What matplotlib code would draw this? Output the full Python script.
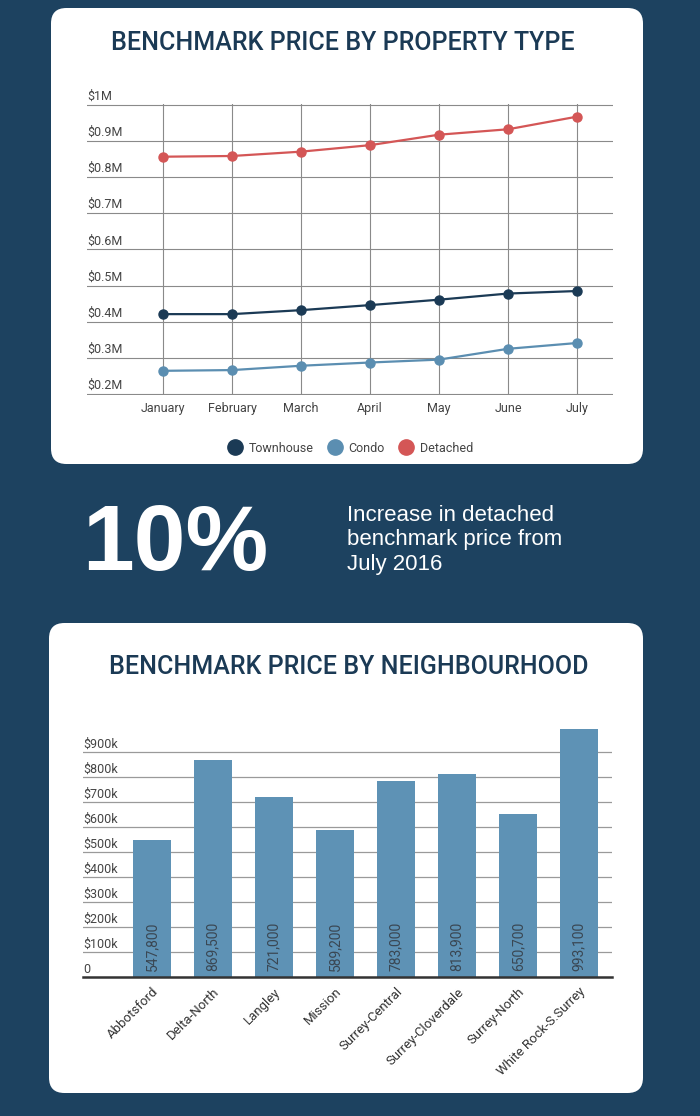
import matplotlib
matplotlib.use("Agg")
import matplotlib.pyplot as plt
from matplotlib.patches import FancyBboxPatch
from matplotlib.lines import Line2D
import matplotlib.transforms as mtransforms

# data
months = ["January", "February", "March", "April", "May", "June", "July"]
townhouse = [0.421, 0.421, 0.432, 0.446, 0.461, 0.478, 0.485]
condo = [0.264, 0.266, 0.278, 0.287, 0.295, 0.325, 0.341]
detached = [0.857, 0.859, 0.871, 0.889, 0.918, 0.933, 0.968]
line_ticks = [0.2, 0.3, 0.4, 0.5, 0.6, 0.7, 0.8, 0.9, 1.0]
line_tick_labels = ["$0.2M", "$0.3M", "$0.4M", "$0.5M", "$0.6M", "$0.7M", "$0.8M", "$0.9M", "$1M"]

hoods = ["Abbotsford", "Delta-North", "Langley", "Mission", "Surrey-Central",
         "Surrey-Cloverdale", "Surrey-North", "White Rock-S.Surrey"]
hood_prices = [547800, 869500, 721000, 589200, 783000, 813900, 650700, 993100]
bar_ticks = [0, 100000, 200000, 300000, 400000, 500000, 600000, 700000, 800000, 900000]
bar_tick_labels = ["0", "$100k", "$200k", "$300k", "$400k", "$500k", "$600k", "$700k", "$800k", "$900k"]

BG = "#1d4260"
NAVY = "#1b3a55"
C_TOWN = "#1b3a55"
C_CONDO = "#5b8eb1"
C_DET = "#d45656"
C_BAR = "#5e92b5"
TXT = "#444444"

W, H = 700, 1116
fig = plt.figure(figsize=(W / 100, H / 100), dpi=100, facecolor=BG)
plt.rcParams["font.family"] = ["Roboto", "DejaVu Sans"]


def rect(x0, y0, x1, y1):
    # pixel box (top-left origin) -> figure fractions
    return [x0 / W, 1 - y1 / H, (x1 - x0) / W, (y1 - y0) / H]


def panel(x0, y0, x1, y1):
    r = rect(x0, y0, x1, y1)
    p = FancyBboxPatch((r[0], r[1]), r[2], r[3],
                       boxstyle="round,pad=0,rounding_size=0.022",
                       transform=fig.transFigure, facecolor="white",
                       edgecolor="none", mutation_aspect=W / H, zorder=-1)
    fig.patches.append(p)


panel(51, 8, 643, 464)
panel(49, 623, 643, 1093)

fig.text(343 / W, 1 - 43 / H, "BENCHMARK PRICE BY PROPERTY TYPE", ha="center", va="center",
         fontsize=18, color=NAVY, fontweight="medium")
fig.text(349 / W, 1 - 667 / H, "BENCHMARK PRICE BY NEIGHBOURHOOD", ha="center", va="center",
         fontsize=18, color=NAVY, fontweight="medium")

# ---- line chart
ax = fig.add_axes(rect(87, 104, 613, 395))
ax.patch.set_visible(False)
x = list(range(len(months)))
ax.plot(x, townhouse, color=C_TOWN, lw=1.6, marker="o", ms=6.5, zorder=3)
ax.plot(x, condo, color=C_CONDO, lw=1.6, marker="o", ms=6.5, zorder=3)
ax.plot(x, detached, color=C_DET, lw=1.6, marker="o", ms=6.5, zorder=3)
ax.set_xlim(-1.1, 6.52)
ax.set_ylim(0.197, 1.003)
for s in ax.spines.values():
    s.set_visible(False)
ax.set_yticks(line_ticks)
ax.set_yticklabels([])
ax.set_xticks(x)
ax.set_xticklabels(months, fontsize=9, color=TXT)
ax.tick_params(length=0, pad=5)
ax.grid(True, color="#8a8a8a", lw=0.8)
ax.set_axisbelow(True)
trans = mtransforms.blended_transform_factory(ax.transAxes, ax.transData)
off = mtransforms.offset_copy(trans, fig=fig, y=1.5, units="points")
for v, lab in zip(line_ticks, line_tick_labels):
    ax.text(0, v, lab, transform=off, ha="left", va="bottom", fontsize=9, color=TXT, clip_on=False)

handles = [Line2D([], [], ls="none", marker="o", ms=11, color=c) for c in (C_TOWN, C_CONDO, C_DET)]
fig.legend(handles, ["Townhouse", "Condo", "Detached"], loc="center", ncol=3,
           bbox_to_anchor=(350 / W, 1 - 448 / H), frameon=False, fontsize=9,
           labelcolor=TXT, handletextpad=0.5, columnspacing=1.1, handlelength=1.2)

# ---- middle text
fig.text(82 / W, 1 - 570 / H, "10%", ha="left", va="baseline", fontsize=67, color="white",
         fontweight="bold", family="Liberation Sans")
fig.text(347 / W, 1 - 540 / H, "Increase in detached\nbenchmark price from\nJuly 2016", ha="left",
         va="center", fontsize=16, color="white", family="Liberation Sans", linespacing=1.22)

# ---- bar chart
bx = fig.add_axes(rect(83, 727, 612, 977))
bx.patch.set_visible(False)
xb = list(range(len(hoods)))
bx.bar(xb, hood_prices, width=0.62, color=C_BAR, zorder=2)
bx.set_xlim(-1.13, 7.54)
bx.set_ylim(0, 1000000)
for s in ("top", "right", "left"):
    bx.spines[s].set_visible(False)
bx.spines["bottom"].set_color("#333333")
bx.spines["bottom"].set_linewidth(1.8)
bx.spines["bottom"].set_zorder(4)
bx.set_yticks(bar_ticks[1:])
bx.set_yticklabels([])
bx.grid(True, axis="y", color="#9a9a9a", lw=0.9)
bx.set_axisbelow(True)
bx.set_xticks(xb)
bx.set_xticklabels(hoods, rotation=45, ha="right", rotation_mode="anchor", fontsize=9.5, color="#333333")
bx.tick_params(length=0, pad=6)
btrans = mtransforms.blended_transform_factory(bx.transAxes, bx.transData)
boff = mtransforms.offset_copy(btrans, fig=fig, y=1, units="points")
for v, lab in zip(bar_ticks, bar_tick_labels):
    bx.text(0, v, lab, transform=boff, ha="left", va="bottom", fontsize=9, color=TXT, clip_on=False)
for xi, v in zip(xb, hood_prices):
    bx.annotate(f"{v:,}", (xi, 0), xytext=(0, 4), textcoords="offset points", rotation=90,
                ha="center", va="bottom", fontsize=10, color="#3a4753", zorder=5)

fig.savefig("out.png", dpi=100, facecolor=BG)
